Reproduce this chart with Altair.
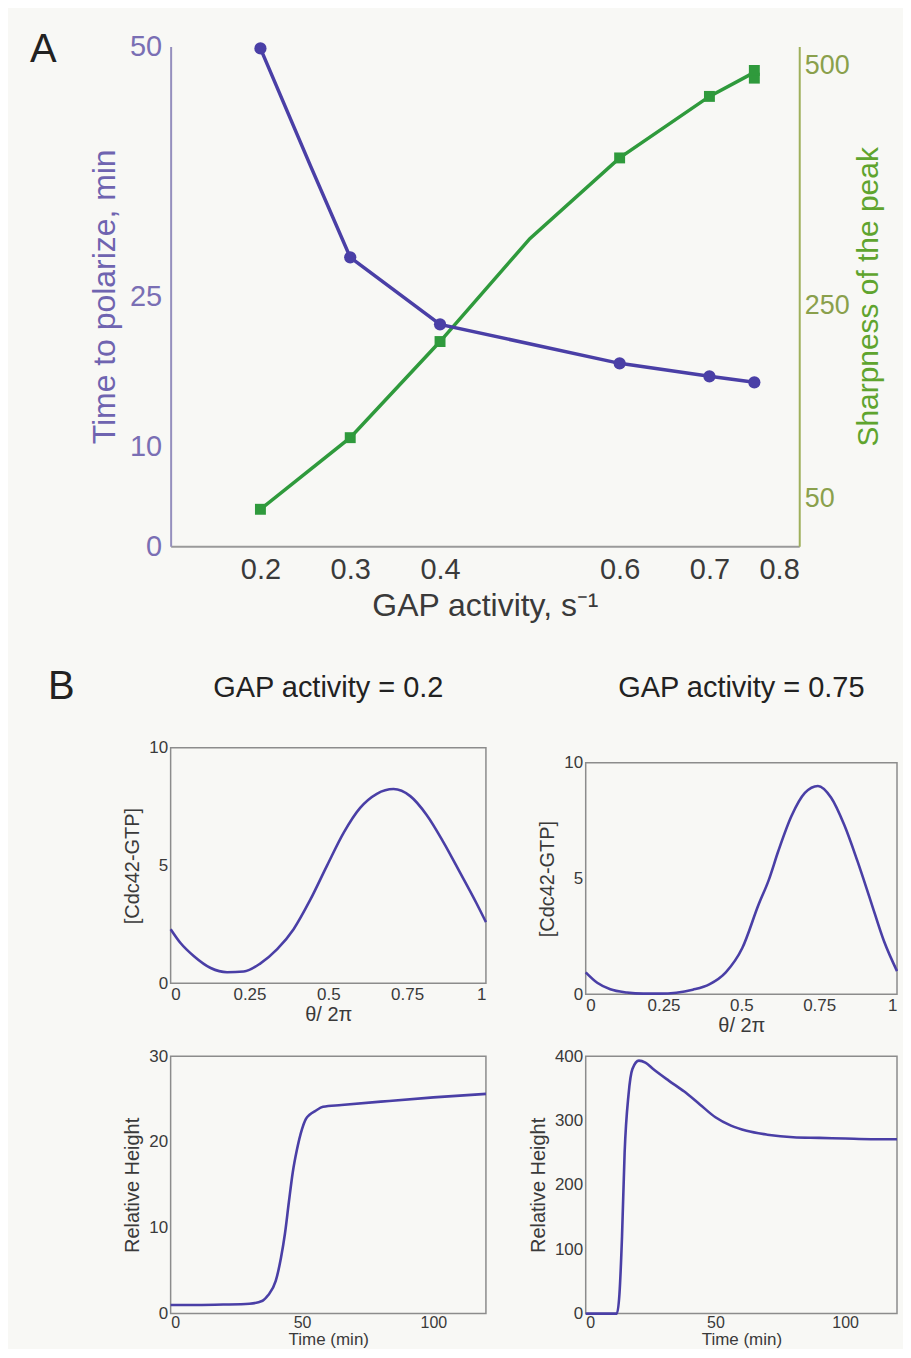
import altair as alt
import pandas as pd

FONT = "Liberation Sans"
BG = "#f8f8f5"
BLUE = "#4a3fa6"
GREEN = "#2f9a3c"
LEFT_LABEL = "#7a6fb4"
LEFT_TITLE = "#6f64b0"
RIGHT_LABEL = "#8aa04c"
RIGHT_TITLE = "#5fa42e"
DARK = "#3a3a3a"
BOX = "#8c8c8c"

# ---------------- Panel A data ----------------
gap_time_pts = [0.2, 0.3, 0.4, 0.6, 0.7, 0.75]
time_pts = [49.8, 28.9, 22.2, 18.3, 17.0, 16.4]
gap_time_line = [0.2, 0.256, 0.3, 0.4, 0.6, 0.7, 0.75]
time_line = [49.8, 38.0, 28.9, 22.2, 18.3, 17.0, 16.4]
gap_sharp_pts = [0.2, 0.3, 0.4, 0.6, 0.7, 0.75, 0.75]
sharp_pts = [38.5, 113, 213, 404, 468, 487, 495]
gap_sharp_line = [0.2, 0.3, 0.4, 0.5, 0.6, 0.7, 0.75]
sharp_line = [38.5, 113, 213, 320, 404, 468, 493]
gap_ticks = [0.2, 0.3, 0.4, 0.6, 0.7, 0.8]
time_ticks = [0, 10, 25, 50]
sharp_ticks = [50, 250, 500]

# ---------------- Panel B data ----------------
theta_02 = [0, 0.032, 0.074, 0.127, 0.179, 0.232, 0.285, 0.338, 0.39, 0.443, 0.496,
            0.549, 0.601, 0.654, 0.707, 0.76, 0.812, 0.865, 0.918, 0.97, 1.0]
cdc_02 = [2.3, 1.7, 1.15, 0.65, 0.47, 0.5, 0.85, 1.45, 2.3, 3.55, 5.0,
          6.4, 7.45, 8.05, 8.25, 7.95, 7.15, 6.0, 4.7, 3.4, 2.6]
theta_075 = [0, 0.037, 0.079, 0.132, 0.185, 0.238, 0.291, 0.344, 0.397, 0.45, 0.503,
             0.556, 0.587, 0.619, 0.661, 0.704, 0.746, 0.788, 0.831, 0.873, 0.915, 0.958, 1.0]
cdc_075 = [0.95, 0.5, 0.22, 0.08, 0.03, 0.03, 0.07, 0.2, 0.43, 0.95, 2.0,
           3.9, 4.9, 6.2, 7.7, 8.7, 9.0, 8.5, 7.3, 5.75, 4.05, 2.3, 1.0]
time_02 = [0, 10, 20, 30, 35, 37, 40, 42, 43.5, 45, 46.5, 48, 50, 51.5, 53, 55, 58,
           65, 80, 100, 120]
height_02 = [1.0, 1.0, 1.05, 1.15, 1.5, 2.1, 3.8, 6.5, 9.3, 13, 16.5, 19, 21.5, 22.7,
             23.2, 23.6, 24.1, 24.3, 24.7, 25.2, 25.6]
time_075 = [0, 5, 10, 12, 13, 14, 15, 16.5, 18, 20.5, 23, 26, 32, 38, 44, 50, 56, 62,
            70, 80, 90, 100, 110, 120]
height_075 = [0, 0, 0, 0, 30, 120, 250, 340, 380, 393, 390, 380, 362, 345, 325, 305,
              292, 284, 278, 274, 273, 272, 271, 271]
theta_ticks = [0, 0.25, 0.5, 0.75, 1]
time_ticks_b = [0, 50, 100]

# ---------------- Panel A ----------------
df_tl = pd.DataFrame({"gap": gap_time_line, "time": time_line})
df_tp = pd.DataFrame({"gap": gap_time_pts, "time": time_pts})
df_sl = pd.DataFrame({"gap": gap_sharp_line, "sharp": sharp_line})
df_sp = pd.DataFrame({"gap": gap_sharp_pts, "sharp": sharp_pts})

xA = alt.X("gap:Q", scale=alt.Scale(domain=[0.1, 0.8], nice=False, zero=False),
           axis=alt.Axis(values=gap_ticks, format=".1f", title="GAP activity, s⁻¹",
                         labelFontSize=29, titleFontSize=32, labelColor=DARK,
                         titleColor=DARK, domainColor="#9a9a9a", domainWidth=2,
                         ticks=False, labelPadding=9, titlePadding=6, grid=False))
yT = alt.Y("time:Q", scale=alt.Scale(domain=[0, 50], nice=False),
           axis=alt.Axis(values=time_ticks, title="Time to polarize, min",
                         labelFontSize=29, titleFontSize=32, labelColor=LEFT_LABEL,
                         titleColor=LEFT_TITLE, domainColor="#958fbd", domainWidth=2,
                         ticks=False, labelPadding=9, titlePadding=8, grid=False,
                         orient="left"))
yS = alt.Y("sharp:Q", scale=alt.Scale(domain=[0, 520], nice=False),
           axis=alt.Axis(values=sharp_ticks, title="Sharpness of the peak",
                         labelFontSize=27, titleFontSize=30, labelColor=RIGHT_LABEL,
                         titleColor=RIGHT_TITLE, domainColor="#9fb05c", domainWidth=2,
                         ticks=False, labelPadding=5, titlePadding=4, grid=False,
                         orient="right", titleAngle=270, titleBaseline="top"))

green_line = alt.Chart(df_sl).mark_line(color=GREEN, strokeWidth=3.5).encode(x=xA, y=yS)
green_pts = alt.Chart(df_sp).mark_point(shape="square", filled=True, color=GREEN,
                                        size=120, opacity=1).encode(x=xA, y=yS)
blue_line = alt.Chart(df_tl).mark_line(color=BLUE, strokeWidth=3.5).encode(x=xA, y=yT)
blue_pts = alt.Chart(df_tp).mark_circle(color=BLUE, size=150, opacity=1).encode(x=xA, y=yT)
label_a = alt.Chart(pd.DataFrame({"t": ["A"]})).mark_text(
    text="A", font=FONT, fontSize=40, align="left", baseline="middle", color="#222"
).encode(x=alt.value(-141), y=alt.value(4))
label_b = alt.Chart(pd.DataFrame({"t": ["B"]})).mark_text(
    text="B", font=FONT, fontSize=40, align="left", baseline="middle", color="#222"
).encode(x=alt.value(-123), y=alt.value(642))

panel_a = alt.layer(
    alt.layer(green_line, green_pts),
    alt.layer(blue_line, blue_pts, label_a, label_b),
).resolve_scale(y="independent").properties(
    width=630, height=501, view=alt.ViewBackground(stroke=None)
)

# ---------------- Panel B ----------------
def b_plot(xs, ys, xdom, ydom, xticks, yticks, xtitle, ytitle, w, h,
           title=None, title_offset=33, yrange=None, is_time=False):
    df = pd.DataFrame({"x": xs, "y": ys})
    yscale = alt.Scale(domain=ydom, nice=False)
    if yrange is not None:
        yscale = alt.Scale(domain=ydom, nice=False, range=yrange)
    xscale = alt.Scale(domain=xdom, nice=False, zero=False)
    x_enc = alt.X("x:Q", scale=xscale,
                  axis=alt.Axis(values=xticks, labelExpr="format(datum.value, '~g')",
                                title=xtitle,
                                labelFontSize=16 if is_time else 17,
                                titleFontSize=17 if is_time else 20,
                                labelColor=DARK, titleColor=DARK,
                                domain=False, ticks=False,
                                labelPadding=1 if is_time else 3,
                                titlePadding=1 if is_time else 2, grid=False))
    y_enc = alt.Y("y:Q", scale=yscale,
                  axis=alt.Axis(values=yticks, title=ytitle, labelFontSize=17,
                                titleFontSize=20, labelColor=DARK, titleColor=DARK,
                                domain=False, ticks=False, labelPadding=3,
                                titlePadding=6, grid=False))
    line = alt.Chart(df).mark_line(color=BLUE, strokeWidth=2.6,
                                   interpolate="monotone").encode(x=x_enc, y=y_enc)
    frame = alt.Chart(pd.DataFrame({"k": [0]})).mark_rect(
        fill=None, stroke=BOX, strokeWidth=1.5
    ).encode(
        x=alt.datum(xdom[0], scale=xscale), x2=alt.datum(xdom[1]),
        y=alt.datum(ydom[0], scale=yscale), y2=alt.datum(ydom[1]),
    )
    ch = alt.layer(frame, line).properties(
        width=w, height=h, view=alt.ViewBackground(stroke=None)
    )
    if title is not None:
        ch = ch.properties(title=alt.TitleParams(title, fontSize=29, font=FONT,
                                                 fontWeight="normal", color="#222",
                                                 offset=title_offset))
    return ch

tl = b_plot(theta_02, cdc_02, [0, 1], [0, 10], theta_ticks, [0, 5, 10],
            "θ/ 2π", "[Cdc42-GTP]", 316, 236, title="GAP activity = 0.2",
            title_offset=36)
tr = b_plot(theta_075, cdc_075, [0, 1], [0, 10], theta_ticks, [0, 5, 10],
            "θ/ 2π", "[Cdc42-GTP]", 312, 247, title="GAP activity = 0.75",
            title_offset=45, yrange=[247, 15])
bl = b_plot(time_02, height_02, [0, 120], [0, 30], time_ticks_b, [0, 10, 20, 30],
            "Time (min)", "Relative Height", 316, 258, is_time=True)
br = b_plot(time_075, height_075, [0, 120], [0, 400], time_ticks_b,
            [0, 100, 200, 300, 400], "Time (min)", "Relative Height", 312, 258,
            is_time=True)

grid = alt.concat(tl, tr, bl, br, columns=2, spacing={"row": 62, "column": 100},
                  bounds="flush")

chart = alt.vconcat(panel_a, grid, spacing=202, bounds="flush").configure(
    background=BG,
    padding={"left": 22, "top": 21, "right": 0, "bottom": 0},
    font=FONT,
).configure_axis(
    labelFont=FONT, titleFont=FONT, titleFontWeight="normal", grid=False
).configure_title(font=FONT, fontWeight="normal")

chart.save("out.html", embed_options={"renderer": "svg", "actions": False})
